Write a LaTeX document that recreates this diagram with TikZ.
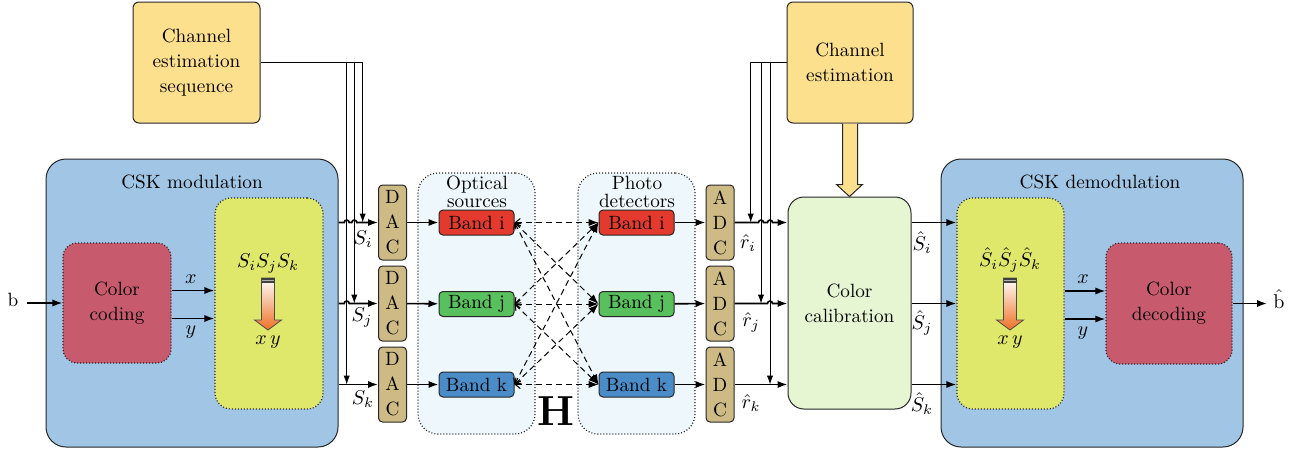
\documentclass[tikz,border=0pt]{standalone}
\usetikzlibrary{arrows.meta,calc}

\definecolor{estfill}{RGB}{253,224,142}
\definecolor{modfill}{RGB}{160,197,229}
\definecolor{codefill}{RGB}{200,90,110}
\definecolor{mapfill}{RGB}{224,232,108}
\definecolor{convfill}{RGB}{205,186,133}
\definecolor{optfill}{RGB}{238,247,252}
\definecolor{calfill}{RGB}{230,245,210}
\definecolor{bandI}{RGB}{228,58,46}
\definecolor{bandJ}{RGB}{88,192,92}
\definecolor{bandK}{RGB}{74,140,200}
\definecolor{gradorange}{RGB}{238,112,36}

\begin{document}
\begin{tikzpicture}[x=0.5pt,y=-0.5pt,
  font=\fontsize{9.6}{12.5}\selectfont,
  box/.style={draw=black!85, line width=0.5pt, align=center, inner sep=0pt},
  dotbox/.style={box, densely dotted, line width=0.6pt},
  conv/.style={box, fill=convfill, rounded corners=2pt,
    minimum width=14pt, minimum height=37.5pt},
  band/.style={box, rounded corners=2pt, minimum width=37.5pt, minimum height=12.5pt},
  sig/.style={line width=0.8pt, -{Latex[length=5pt,width=3.6pt]}},
  ctl/.style={line width=0.5pt, -{Latex[length=4.5pt,width=3.2pt]}},
  link/.style={line width=0.5pt, dash pattern=on 3pt off 2pt,
    {Straight Barb[length=2.5pt,width=4pt]}-{Latex[length=5pt,width=3.6pt]}},
  gradarrow/.pic={
    \path[draw=black!70, line width=0.4pt, top color=white, bottom color=gradorange]
      (-6.5,0) -- (6.5,0) -- (6.5,42) -- (13.5,42) -- (0,52) -- (-13.5,42)
      -- (-6.5,42) -- cycle;
    \fill[black!75] (-6.5,0) rectangle (6.5,5);
    \draw[black!30, line width=0.4pt] (-6,2.5) -- (6,2.5);
  }]
\useasboundingbox (0,0) rectangle (1305,451);

% ---------- transmitter ----------
\node[box, fill=estfill, rounded corners=3pt, minimum width=63.5pt, minimum height=60.5pt]
  (chseq) at (196.5,62.5) {Channel\\estimation\\sequence};

\node[box, fill=modfill, rounded corners=10pt, minimum width=146pt, minimum height=144pt]
  (mod) at (192,303) {};
\node (modt) at (192,182) {CSK modulation};
\node[dotbox, fill=codefill, rounded corners=7pt, minimum width=54pt, minimum height=60pt]
  (coding) at (117,303) {Color\\coding};
\node[dotbox, fill=mapfill, rounded corners=8pt, minimum width=54pt, minimum height=105.5pt]
  (map) at (269,303.5) {};
\node (mapin) at (268,264) {$S_iS_jS_k$};
\pic at (268,278) {gradarrow};
\node (mapout) at (268,342) {$x\,y$};

\node (bl) at (13,300) {b};
\draw[sig] (bl.east) ++(2,0) coordinate (bstart) (bstart |- coding.west) -- (coding.west);

\coordinate (cx) at ($(coding.east)+(0,-12.5)$);
\coordinate (cy) at ($(coding.east)+(0,15.5)$);
\draw[sig] (cx) -- node[above, pos=0.45] {$x$} (map.west |- cx);
\draw[sig] (cy) -- node[below, pos=0.45] {$y$} (map.west |- cy);

% DACs
\node[conv] (dac1) at (392.5,222.5) {D\\A\\C};
\node[conv] (dac2) at (392.5,303.5) {D\\A\\C};
\node[conv] (dac3) at (392.5,384.5) {D\\A\\C};

% training sequence feeds
\coordinate (qK) at (346.7,384.5);
\coordinate (qJ) at (354.3,303.5);
\coordinate (qI) at (362.7,222.5);
\draw[ctl] (chseq.east) -| (qK);
\draw[ctl] (chseq.east) -| (qJ);
\draw[ctl] (chseq.east) -| (qI);

\draw[sig] (mod.east |- dac1) -- ($(qK |- dac1)+(-2.5,0)$)
  arc[start angle=180, end angle=0, radius=1.25pt]
  -- ($(qJ |- dac1)+(-2.5,0)$)
  arc[start angle=180, end angle=0, radius=1.25pt] -- (dac1);
\draw[sig] (mod.east |- dac2) -- ($(qK |- dac2)+(-2.5,0)$)
  arc[start angle=180, end angle=0, radius=1.25pt] -- (dac2);
\draw[sig] (mod.east |- dac3) -- (dac3);

\node (lsi) at (363,239) {$S_i$};
\node (lsj) at (362,318) {$S_j$};
\node (lsk) at (363,399) {$S_k$};

% ---------- optical channel ----------
\node[dotbox, fill=optfill, rounded corners=10pt, minimum width=58.5pt, minimum height=130.5pt]
  (srcs) at (476.5,303.5) {};
\node[dotbox, fill=optfill, rounded corners=10pt, minimum width=58.5pt, minimum height=130.5pt]
  (dets) at (636.5,303.5) {};
\node[align=center, font=\fontsize{9.6}{9}\selectfont] (srct) at (477,192) {Optical\\sources};
\node[align=center, font=\fontsize{9.6}{9}\selectfont] (dett) at (637,192) {Photo\\detectors};

\node[band, fill=bandI] (si) at (476.5,222.5) {Band i};
\node[band, fill=bandJ] (sj) at (476.5,304) {Band j};
\node[band, fill=bandK] (sk) at (476.5,384.5) {Band k};
\node[band, fill=bandI] (di) at (636.5,222.5) {Band i};
\node[band, fill=bandJ] (dj) at (636.5,304) {Band j};
\node[band, fill=bandK] (dk) at (636.5,384.5) {Band k};

\foreach \a in {si,sj,sk}
  \foreach \b in {di,dj,dk}
    \draw[link] (\a.east) -- (\b.west);

\node[font=\fontsize{21}{21}\selectfont\bfseries] (hmat) at (556,411) {H};

\draw[sig] (dac1) -- (si);
\draw[sig] (dac2) -- (sj);
\draw[sig] (dac3) -- (sk);

% ADCs
\node[conv] (adc1) at (720,222.5) {A\\D\\C};
\node[conv] (adc2) at (720,303.5) {A\\D\\C};
\node[conv] (adc3) at (720,384.5) {A\\D\\C};

\draw[sig] (di) -- (adc1);
\draw[sig] (dj) -- (adc2);
\draw[sig] (dk) -- (adc3);

% ---------- receiver ----------
\node[box, fill=estfill, rounded corners=3pt, minimum width=63pt, minimum height=60.5pt]
  (chest) at (850,62.5) {Channel\\estimation};

\node[box, fill=calfill, rounded corners=8pt, minimum width=61.5pt, minimum height=106pt]
  (cal) at (849.5,303) {Color\\calibration};

\draw[line width=0.5pt, draw=black!85, fill=estfill]
  ($(chest.south)+(-7.5,0)$) -- ($(cal.north)+(-7,-12)$) -- ($(cal.north)+(-13,-12)$)
  -- (cal.north) -- ($(cal.north)+(13,-12)$) -- ($(cal.north)+(8,-12)$)
  -- ($(chest.south)+(7.5,0)$);

\coordinate (pI) at (750.7,222.5);
\coordinate (pJ) at (761,303.5);
\coordinate (pK) at (770,384.5);
\draw[ctl] (chest.west) -| (pI);
\draw[ctl] (chest.west) -| (pJ);
\draw[ctl] (chest.west) -| (pK);

\draw[sig] (adc1) -- ($(pJ |- adc1)+(-2.5,0)$)
  arc[start angle=180, end angle=0, radius=1.25pt]
  -- ($(pK |- adc1)+(-2.5,0)$)
  arc[start angle=180, end angle=0, radius=1.25pt] -- (cal.west |- adc1);
\draw[sig] (adc2) -- ($(pK |- adc2)+(-2.5,0)$)
  arc[start angle=180, end angle=0, radius=1.25pt] -- (cal.west |- adc2);
\draw[sig] (adc3) -- (cal.west |- adc3);

\node[inner sep=1pt] (lri) at (748,243) {$\hat{r}_i$};
\node[inner sep=1pt] (lrj) at (751,322) {$\hat{r}_j$};
\node[inner sep=1pt] (lrk) at (751,403) {$\hat{r}_k$};

\node[box, fill=modfill, rounded corners=10pt, minimum width=151pt, minimum height=144pt]
  (demod) at (1092,303) {};
\node (demodt) at (1100,182) {CSK demodulation};
\node[dotbox, fill=mapfill, rounded corners=8pt, minimum width=53.5pt, minimum height=105.5pt]
  (dmap) at (1010.5,303.5) {};
\node[dotbox, fill=codefill, rounded corners=7pt, minimum width=63pt, minimum height=60.5pt]
  (decod) at (1169,303.5) {Color\\decoding};
\node (dmapin) at (1010,260) {$\hat{S}_i\hat{S}_j\hat{S}_k$};
\pic at (1010,278) {gradarrow};
\node (dmapout) at (1010,342) {$x\,y$};

\draw[sig] (cal.east |- adc1) -- (dmap.west |- adc1);
\draw[sig] (cal.east |- adc2) -- (dmap.west |- adc2);
\draw[sig] (cal.east |- adc3) -- (dmap.west |- adc3);

\node[inner sep=1pt] (lhi) at (922,243) {$\hat{S}_i$};
\node[inner sep=1pt] (lhj) at (922,323) {$\hat{S}_j$};
\node[inner sep=1pt] (lhk) at (922,404) {$\hat{S}_k$};

\coordinate (dx) at ($(dmap.east)+(0,-12.5)$);
\coordinate (dy) at ($(dmap.east)+(0,15.5)$);
\draw[sig] (dx) -- node[above, pos=0.45] {$x$} (decod.west |- dx);
\draw[sig] (dy) -- node[below, pos=0.45] {$y$} (decod.west |- dy);

\node[inner sep=1pt] (bh) at (1279,299) {$\hat{\mathrm{b}}$};
\draw[sig] (decod.east) -- ($(bh.west |- decod.east)+(-4,0)$);
\end{tikzpicture}
\end{document}
